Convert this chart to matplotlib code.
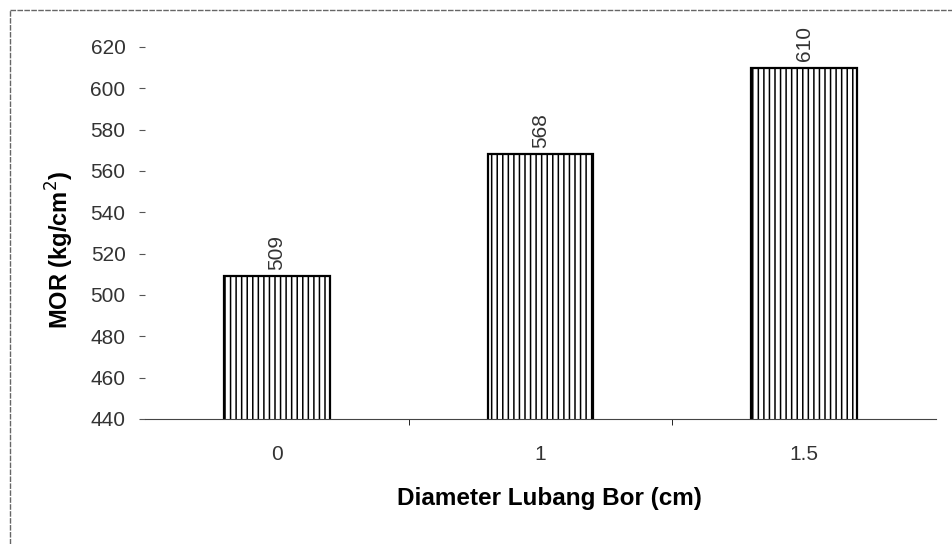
import matplotlib
matplotlib.use("Agg")
import matplotlib.pyplot as plt
from matplotlib.lines import Line2D
import numpy as np

categories = ["0", "1", "1.5"]
values = [509, 568, 610]
yticks = [440, 460, 480, 500, 520, 540, 560, 580, 600, 620]

plt.rcParams['font.family'] = ['Liberation Sans', 'DejaVu Sans']
plt.rcParams['hatch.linewidth'] = 1.1
plt.rcParams['hatch.color'] = '#333333'

fig = plt.figure(figsize=(9.52, 5.44), dpi=100)
ax = fig.add_axes([145/952, 1-419/544, (936-145)/952, (419-47)/544])

x = np.arange(len(categories))
bars = ax.bar(x, values, width=0.40, color='white', edgecolor='black',
              hatch='|||', linewidth=1.6)
ax.set_xlim(-0.5, len(categories)-0.5)
ax.set_ylim(440, 620)
ax.set_yticks(yticks)
ax.set_yticklabels([str(t) for t in yticks], fontsize=15, color='#333333')
ax.set_xticks(x)
ax.set_xticklabels(categories, fontsize=15, color='#333333')
ax.set_xticks(np.arange(0.5, len(categories)-0.5, 1), minor=True)
ax.tick_params(axis='x', which='major', length=0, pad=19)
ax.tick_params(axis='x', which='minor', length=4, direction='out')
ax.tick_params(axis='y', length=4, direction='out', pad=10, color='#555555')

for s in ['top', 'right', 'left']:
    ax.spines[s].set_visible(False)
ax.spines['bottom'].set_color('#444444')

for xi, v in zip(x, values):
    ax.text(xi, v + 3, str(v), rotation=90, ha='center', va='bottom',
            fontsize=15, color='#333333', clip_on=False)

ax.set_ylabel("MOR (kg/cm$^2$)", fontsize=17, fontweight='bold')
ax.yaxis.set_label_coords((60 - 145) / 791, (419 - 250) / 372)
ax.set_xlabel("Diameter Lubang Bor (cm)", fontsize=17.5, fontweight='bold')
ax.xaxis.set_label_coords((549 - 145) / 791, (419 - 499) / 372)
ax.xaxis.label.set_va('center')
ax.yaxis.label.set_va('center')

# outer frame
fig.add_artist(Line2D([10/952, 10/952], [0, 1-10/544], transform=fig.transFigure,
                      color='#666666', lw=1, ls=(0, (4, 1))))
fig.add_artist(Line2D([10/952, 1], [1-10/544, 1-10/544], transform=fig.transFigure,
                      color='#666666', lw=1, ls=(0, (4, 1))))

fig.savefig("out.png", dpi=100)
